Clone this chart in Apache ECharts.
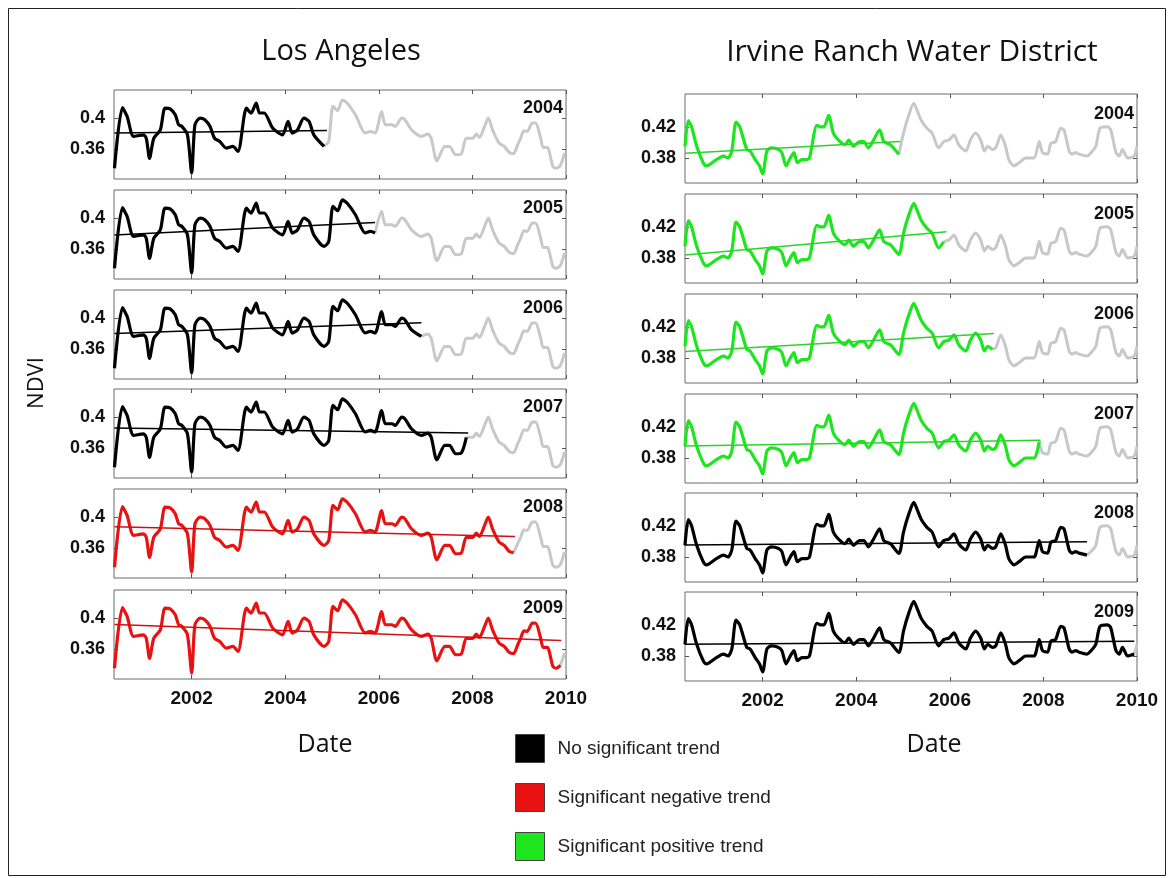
<!DOCTYPE html>
<html><head><meta charset="utf-8">
<script src="https://cdn.jsdelivr.net/npm/echarts@6/dist/echarts.min.js"></script>
<style>html,body{margin:0;padding:0;background:#fff}#c{width:1168px;height:878px}</style>
</head><body><div id="c"></div>
<script>
// ---------- DATA ----------
const laYears = [2000.35,2000.52,2000.62,2000.76,2000.97,2001.03,2001.10,2001.19,2001.33,2001.43,2001.54,2001.65,2001.72,2001.79,2001.91,
  2002.00,2002.07,2002.18,2002.28,2002.39,2002.49,2002.60,2002.74,2002.88,2002.99,2003.17,2003.27,2003.38,2003.45,2003.55,2003.73,2003.94,
  2004.06,2004.15,2004.26,2004.40,2004.51,2004.61,2004.83,2004.93,2005.02,2005.12,2005.22,2005.32,2005.50,2005.71,2005.82,2005.92,
  2006.06,2006.14,2006.28,2006.35,2006.49,2006.56,2006.70,2006.91,2007.05,2007.12,2007.24,2007.41,2007.51,2007.64,2007.76,2007.87,
  2008.01,2008.08,2008.15,2008.26,2008.34,2008.43,2008.57,2008.68,2008.79,2008.88,2008.97,2009.03,2009.10,2009.17,2009.28,2009.35,
  2009.46,2009.51,2009.60,2009.72,2009.79,2009.88,2009.97];
const laNDVI = [0.335,0.414,0.4026,0.3765,0.3786,0.374,0.348,0.374,0.385,0.4134,0.4125,0.4047,0.3917,0.3896,0.3786,
  0.3287,0.3917,0.4004,0.3982,0.3896,0.374,0.370,0.3613,0.3635,0.357,0.4134,0.4069,0.42,0.407,0.407,0.3874,0.3786,
  0.396,0.3808,0.385,0.4004,0.396,0.3786,0.3635,0.370,0.4157,0.41,0.424,0.42,0.4047,0.381,0.383,0.381,
  0.409,0.3917,0.3917,0.3896,0.4004,0.398,0.385,0.3765,0.3795,0.374,0.3447,0.3635,0.3635,0.3526,0.3535,0.374,
  0.374,0.3795,0.3752,0.3896,0.4004,0.385,0.3678,0.3635,0.3555,0.354,0.366,0.374,0.3838,0.383,0.3939,0.3939,
  0.374,0.3622,0.3622,0.3374,0.335,0.3387,0.355];

const irYears = [2000.34,2000.41,2000.48,2000.59,2000.73,2000.80,2001.01,2001.16,2001.26,2001.34,2001.43,2001.51,2001.66,2001.73,2001.84,2001.93,
  2002.00,2002.09,2002.19,2002.34,2002.41,2002.50,2002.59,2002.67,2002.74,2002.84,2002.94,2003.00,2003.16,2003.23,2003.31,2003.41,2003.51,2003.62,2003.76,2003.84,2003.94,
  2004.07,2004.16,2004.26,2004.37,2004.50,2004.59,2004.73,2004.91,2005.01,2005.12,2005.23,2005.30,2005.39,2005.51,2005.62,2005.76,2005.87,2005.98,
  2006.09,2006.19,2006.34,2006.44,2006.55,2006.66,2006.74,2006.81,2006.91,2006.98,2007.09,2007.19,2007.26,2007.37,2007.48,2007.62,2007.80,2007.91,2007.98,
  2008.09,2008.16,2008.26,2008.37,2008.44,2008.55,2008.61,2008.69,2008.76,2008.93,2009.05,2009.12,2009.21,2009.37,2009.44,2009.55,2009.62,2009.69,2009.80,2009.94,2010.0];
const irNDVI = [0.395,0.428,0.42,0.395,0.374,0.37,0.378,0.3825,0.38,0.389,0.426,0.42,0.391,0.389,0.378,0.37,
  0.3596,0.389,0.393,0.391,0.387,0.37,0.38,0.387,0.374,0.378,0.378,0.38,0.422,0.42,0.42,0.4346,0.412,0.403,0.397,0.403,0.395,
  0.401,0.401,0.393,0.403,0.416,0.401,0.397,0.3846,0.412,0.4346,0.45,0.441,0.428,0.418,0.412,0.393,0.401,0.403,
  0.4096,0.397,0.389,0.403,0.412,0.403,0.389,0.395,0.391,0.393,0.4096,0.395,0.378,0.37,0.374,0.38,0.38,0.401,0.387,
  0.385,0.399,0.401,0.418,0.416,0.389,0.385,0.387,0.385,0.3825,0.389,0.395,0.418,0.42,0.416,0.387,0.3825,0.391,0.38,0.3825,0.395];

const panelYears = [2004,2005,2006,2007,2008,2009];
const laTrendClass = ['none','none','none','none','negative','negative'];
const irTrendClass = ['positive','positive','positive','positive','none','none'];
const laTrendEndYear = [2004.89,2005.92,2006.91,2007.91,2008.91,2009.90];
const laTrendStart = [0.3808,0.3783,0.3804,0.3861,0.3878,0.392];
const laTrendEnd   = [0.3843,0.3948,0.3943,0.3796,0.3752,0.3713];
const irTrendEndYear = [2004.94,2005.93,2006.94,2007.94,2008.93,2009.94];
const irTrendStart = [0.386,0.3838,0.3883,0.3954,0.3954,0.395];
const irTrendEnd   = [0.401,0.4138,0.4113,0.4029,0.3996,0.3988];

const xTicks = [2002,2004,2006,2008,2010];
const laYTicks = [0.36,0.4];
const irYTicks = [0.38,0.42];
const cityTitles = ['Los Angeles','Irvine Ranch Water District'];
const legendNames = {none:'No significant trend', negative:'Significant negative trend', positive:'Significant positive trend'};
const legendOrder = ['none','negative','positive'];

// ---------- STYLE / LAYOUT ----------
const classColor = {none:'#000000', negative:'#e81212', positive:'#1ee61e'};
const trendColor = {none:'#000000', negative:'#d01010', positive:'#2ad42a'};
const GRAY = '#c8c8c8';
const X_MIN = 2000.34, X_MAX = 2010;
const cols = [
  {left:114, width:452, tops:[90,190,290,389,489,590], height:89, ymin:0.321, ymax:0.437, labelDy:9,
   years:laYears, vals:laNDVI, cls:laTrendClass, endY:laTrendEndYear, ts:laTrendStart, te:laTrendEnd, yTicks:laYTicks},
  {left:685, width:452, tops:[94,194,294,394,493,592], height:89, ymin:0.348, ymax:0.462, labelDy:11,
   years:irYears, vals:irNDVI, cls:irTrendClass, endY:irTrendEndYear, ts:irTrendStart, te:irTrendEnd, yTicks:irYTicks}
];

const grid=[], xAxis=[], yAxis=[], series=[], graphic=[];
const xTop=[], yRight=[];
let g=0;
const tickStyle = {color:'#555', width:1};
cols.forEach((c,ci)=>{
  panelYears.forEach((py,pi)=>{
    grid.push({left:c.left, top:c.tops[pi], width:c.width, height:c.height, show:true,
      borderColor:'#6a6a6a', borderWidth:1, backgroundColor:'transparent', outerBoundsMode:'none'});
    const isBottom = pi===panelYears.length-1;
    xAxis.push({gridIndex:g, type:'value', min:X_MIN, max:X_MAX, position:'bottom',
      axisLine:{show:false}, splitLine:{show:false},
      axisTick:{show:true, inside:true, length:4, customValues:xTicks, lineStyle:tickStyle},
      axisLabel:{show:isBottom, customValues:xTicks, formatter:v=>String(Math.round(v)), margin:10,
        fontFamily:'Liberation Sans', fontWeight:'bold', fontSize:19, color:'#111', showMinLabel:true, showMaxLabel:true}});
    xTop.push({gridIndex:g, type:'value', min:X_MIN, max:X_MAX, position:'top',
      axisLine:{show:false}, splitLine:{show:false}, axisLabel:{show:false},
      axisTick:{show:true, inside:true, length:4, customValues:xTicks, lineStyle:tickStyle}});
    yAxis.push({gridIndex:g, type:'value', min:c.ymin, max:c.ymax, position:'left',
      axisLine:{show:false}, splitLine:{show:false},
      axisTick:{show:true, inside:true, length:4, customValues:c.yTicks, lineStyle:tickStyle},
      axisLabel:{customValues:c.yTicks, formatter:v=>String(+v.toFixed(2)), margin:9,
        fontFamily:'Liberation Sans', fontWeight:'bold', fontSize:18, color:'#111'}});
    yRight.push({gridIndex:g, type:'value', min:c.ymin, max:c.ymax, position:'right',
      axisLine:{show:false}, splitLine:{show:false}, axisLabel:{show:false},
      axisTick:{show:true, inside:true, length:4, customValues:c.yTicks, lineStyle:tickStyle}});

    const cls = c.cls[pi];
    const cut = c.endY[pi] + 0.02;
    const colored=[], gray=[];
    let lastIdx=-1;
    c.years.forEach((y,k)=>{ if(y<=cut){ colored.push([y,c.vals[k]]); lastIdx=k; } });
    for(let k=Math.max(lastIdx,0); k<c.years.length; k++) gray.push([c.years[k], c.vals[k]]);
    series.push({type:'line', name:'_gray', xAxisIndex:g, yAxisIndex:g, data:gray, symbol:'none',
      smooth:0.25, lineStyle:{color:GRAY, width:3}, itemStyle:{color:GRAY}, z:2, silent:true});
    series.push({type:'line', name:legendNames[cls], xAxisIndex:g, yAxisIndex:g, data:colored, symbol:'none',
      smooth:0.25, lineStyle:{color:classColor[cls], width:3.2}, itemStyle:{color:classColor[cls]}, z:3, silent:true});
    series.push({type:'line', name:'_trend', xAxisIndex:g, yAxisIndex:g,
      data:[[c.years[0], c.ts[pi]],[c.endY[pi], c.te[pi]]], symbol:'none',
      lineStyle:{color:trendColor[cls], width:1.5}, itemStyle:{color:trendColor[cls]}, z:4, silent:true});

    graphic.push({type:'text', x:c.left+c.width-3, y:c.tops[pi]+c.labelDy, z:10,
      style:{text:String(py), font:'bold 18px "Liberation Sans"', fill:'#111', align:'right', verticalAlign:'top'}});
    g++;
  });
});
xTop.forEach(a=>xAxis.push(a));
yRight.forEach(a=>yAxis.push(a));

// titles & axis names
graphic.push({type:'text', x:341, y:52, style:{text:cityTitles[0], font:'29px "Open Sans"', fill:'#111', align:'center', verticalAlign:'middle'}});
graphic.push({type:'text', x:912, y:52, style:{text:cityTitles[1], font:'30px "Open Sans"', fill:'#111', align:'center', verticalAlign:'middle'}});
graphic.push({type:'text', x:37, y:383, rotation:Math.PI/2, style:{text:'NDVI', font:'22px "Open Sans"', fill:'#111', align:'center', verticalAlign:'middle'}});
graphic.push({type:'text', x:325, y:745, style:{text:'Date', font:'25px "Open Sans"', fill:'#111', align:'center', verticalAlign:'middle'}});
graphic.push({type:'text', x:934, y:745, style:{text:'Date', font:'25px "Open Sans"', fill:'#111', align:'center', verticalAlign:'middle'}});
graphic.push({type:'rect', shape:{x:8.5, y:8.5, width:1157, height:867}, style:{fill:'none', stroke:'#222', lineWidth:1}, z:-1, silent:true});

const option = {
  backgroundColor:'#fff',
  animation:false,
  grid, xAxis, yAxis, series, graphic,
  legend:{
    orient:'vertical', left:515, top:734, itemWidth:29, itemHeight:28, itemGap:20, padding:0,
    icon:'rect', selectedMode:false,
    itemStyle:{borderColor:'#444', borderWidth:1},
    textStyle:{fontFamily:'Liberation Sans', fontSize:19, color:'#222', padding:[0,0,0,8]},
    data: legendOrder.map(k=>({name:legendNames[k], icon:'rect', itemStyle:{color:classColor[k]}}))
  }
};
const chart = echarts.init(document.getElementById('c'), null, {renderer:'canvas'});
chart.setOption(option);
</script></body></html>
